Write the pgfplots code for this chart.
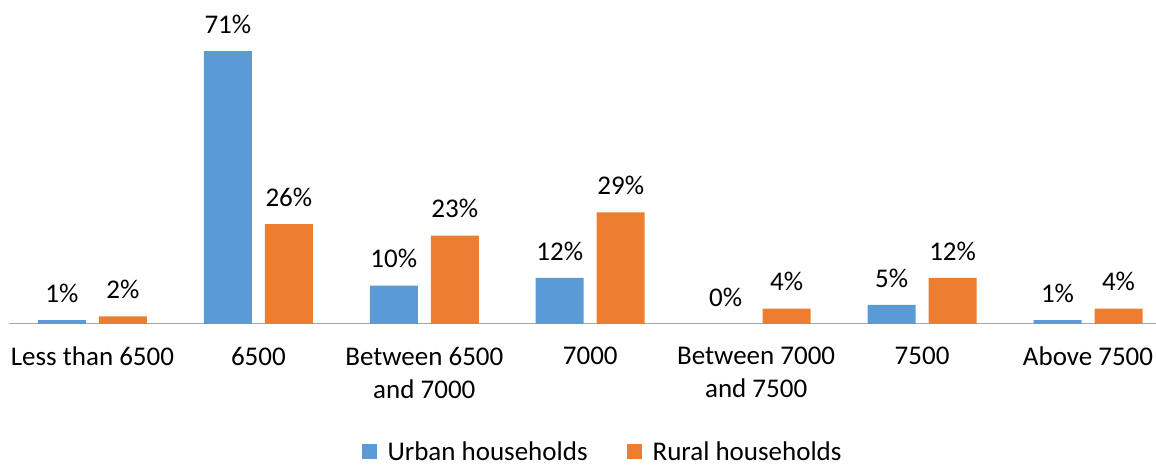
\documentclass[border=0pt]{standalone}
\usepackage{pgfplots}
\pgfplotsset{compat=1.18}
\usepackage{fontspec}
\setmainfont{Carlito}
\definecolor{cblue}{HTML}{5B9BD5}
\definecolor{corange}{HTML}{ED7D31}
\begin{document}
\begin{tikzpicture}[x=1pt,y=1pt]
\useasboundingbox (0,0) rectangle (1156,468);
\begin{axis}[
  at={(9.5pt,144pt)}, anchor=south west,
  scale only axis,
  width=1146.5pt, height=307.6pt,
  xmin=-0.5, xmax=6.41,
  ymin=0, ymax=80,
  axis y line=none,
  axis x line*=bottom,
  x axis line style={draw=black!35, line width=1pt, -},
  xtick={0,1,2,3,4,5,6},
  xticklabels={Less than 6500,6500,{Between 6500\\and 7000},7000,{Between 7000\\and 7500},7500,Above 7500},
  xtick style={draw=none},
  xticklabel style={align=center, font=\fontsize{27}{33}\selectfont, yshift=-15pt},
  ybar=13pt, bar width=48pt,
  clip=false,
  nodes near coords={\pgfmathprintnumber[assume math mode=true]{\pgfplotspointmeta}\%},
  every node near coord/.append style={font=\fontsize{27}{32}\selectfont, text=black, yshift=14pt},
  legend style={at={(0.5168,-0.415)}, anchor=center, draw=none, legend columns=2,
    inner sep=0pt, nodes={inner sep=1pt},
    font=\fontsize{27}{32}\selectfont, /tikz/every even column/.append style={column sep=38pt}},
  legend image code/.code={\fill[#1] (0pt,-7.5pt) rectangle (15pt,7.5pt); \path (25pt,0pt);},
]
\addplot[fill=cblue, draw=none] coordinates {(0,1) (1,71) (2,10) (3,12) (4,0) (5,5) (6,1)};
\addplot[fill=corange, draw=none] coordinates {(0,2) (1,26) (2,23) (3,29) (4,4) (5,12) (6,4)};
\legend{Urban households, Rural households}
\end{axis}
\end{tikzpicture}
\end{document}
